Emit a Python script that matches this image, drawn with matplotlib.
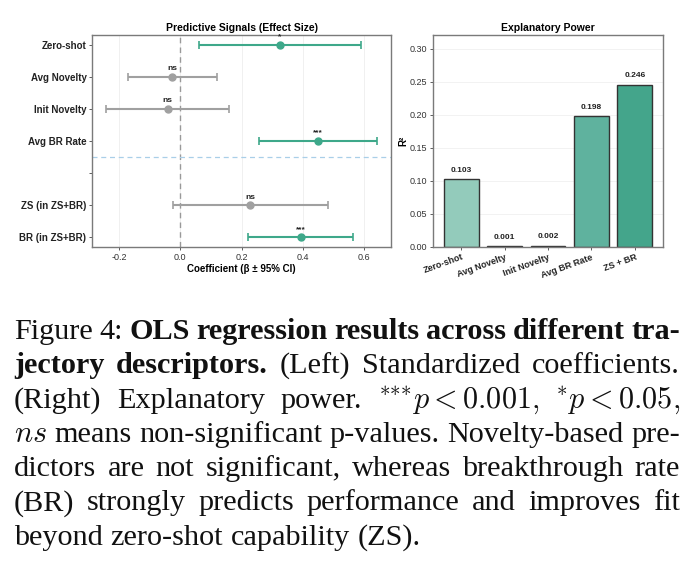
import matplotlib
matplotlib.use("Agg")
import matplotlib.pyplot as plt

# ---------------------------------------------------------
# data
# ---------------------------------------------------------
predictors = ["Zero-shot", "Avg Novelty", "Init Novelty", "Avg BR Rate",
              "", "ZS (in ZS+BR)", "BR (in ZS+BR)"]
coef = [0.325, -0.026, -0.041, 0.448, None, 0.228, 0.392]
ci_low = [0.060, -0.170, -0.243, 0.257, None, -0.023, 0.222]
ci_high = [0.588, 0.118, 0.160, 0.640, None, 0.480, 0.564]
sig = ["*", "ns", "ns", "***", "", "ns", "***"]

models = ["Zero-shot", "Avg Novelty", "Init Novelty", "Avg BR Rate", "ZS + BR"]
r2 = [0.103, 0.001, 0.002, 0.198, 0.246]
bar_colors = ["#93cbbb", "#7fc0ae", "#6bb7a3", "#5fb29e", "#44a58b"]

GREEN = "#3ea88a"
GREY = "#a0a0a0"
SPINE = "#7a7a7a"

plt.rcParams["font.family"] = ["Liberation Sans", "DejaVu Sans"]
plt.rcParams["mathtext.fontset"] = "cm"

fig = plt.figure(figsize=(6.92, 5.79), dpi=100)
W, H = 692, 579

ax1 = fig.add_axes([92 / W, 1 - 247 / H, (391 - 92) / W, (247 - 35) / H])
ax2 = fig.add_axes([433 / W, 1 - 247 / H, (663 - 433) / W, (247 - 35) / H])

# ---------------- left: coefficient plot ----------------
for i, (c, lo, hi, s) in enumerate(zip(coef, ci_low, ci_high, sig)):
    if c is None:
        continue
    col = GREY if s == "ns" else GREEN
    ax1.errorbar(c, i, xerr=[[c - lo], [hi - c]], fmt="o", color=col,
                 ms=5, elinewidth=1.5, capsize=3, capthick=1.2, zorder=3)
    ax1.text(c, i - 0.14, s, ha="center", va="bottom", fontsize=6,
             fontweight="bold", color="#222222", zorder=4)

ax1.axvline(0, color="#999999", ls=(0, (4, 3)), lw=1, zorder=1)
ax1.axhline(3.5, color="#a9cfe8", ls=(0, (4, 3)), lw=0.9, zorder=1)
ax1.set_xlim(-0.288, 0.687)
ax1.set_ylim(6.3, -0.3)
ax1.set_yticks(range(len(predictors)))
ax1.set_yticklabels(predictors, fontsize=7, fontweight="bold", color="#222222")
ax1.set_xticks([-0.2, 0.0, 0.2, 0.4, 0.6])
ax1.set_xticklabels(["-0.2", "0.0", "0.2", "0.4", "0.6"], fontsize=6.5,
                    color="#333333")
ax1.grid(axis="x", color="#eeeeee", lw=0.6, zorder=0)
ax1.set_axisbelow(True)
ax1.set_xlabel("Coefficient (\u03b2 \u00b1 95% CI)", fontsize=7,
               fontweight="bold", labelpad=2)
ax1.set_title("Predictive Signals (Effect Size)", fontsize=7.5,
              fontweight="bold", pad=3)
ax1.tick_params(length=2, width=0.6, color="#444444", pad=2)

# ---------------- right: R^2 bars ----------------
bars = ax2.bar(range(len(models)), r2, width=0.8, color=bar_colors,
               edgecolor="#333333", linewidth=1, zorder=2)
for b, v in zip(bars, r2):
    ax2.text(b.get_x() + b.get_width() / 2, v + 0.008, f"{v:.3f}",
             ha="center", va="bottom", fontsize=6, fontweight="bold",
             color="#222222")
ax2.set_xlim(-0.65, 4.65)
ax2.set_ylim(0, 0.321)
ax2.set_yticks([0, 0.05, 0.10, 0.15, 0.20, 0.25, 0.30])
ax2.set_yticklabels([f"{t:.2f}" for t in ax2.get_yticks()], fontsize=6.5,
                    color="#333333")
ax2.set_xticks(range(len(models)))
ax2.set_xticklabels(models, rotation=20, ha="right", rotation_mode="anchor",
                    fontsize=6.5, fontweight="bold", color="#222222")
ax2.grid(axis="y", color="#f0f0f0", lw=0.6, zorder=0)
ax2.set_axisbelow(True)
ax2.set_ylabel("R\u00b2", fontsize=7, fontweight="bold", labelpad=1)
ax2.set_title("Explanatory Power", fontsize=7.5, fontweight="bold", pad=3)
ax2.tick_params(length=2, width=0.6, color="#444444", pad=2)

for ax in (ax1, ax2):
    for sp in ax.spines.values():
        sp.set_color(SPINE)
        sp.set_linewidth(1)

# ---------------- caption (justified) ----------------
N, B, M = "normal", "bold", "math"
caption = [
    [("Figure", N), ("4:", N), ("OLS", B), ("regression", B), ("results", B),
     ("across", B), ("different", B), ("tra-", B)],
    [("jectory", B), ("descriptors.", B), ("(Left)", N), ("Standardized", N),
     ("coefficients.", N)],
    [("(Right)", N), ("Explanatory", N), ("power.", N),
     (r"$^{{*}{*}{*}}p<0.001,$", M), (r"$^{{*}}p<0.05,$", M)],
    [(r"$ns$", M), ("means", N), ("non-significant", N), ("p-values.", N),
     ("Novelty-based", N), ("pre-", N)],
    [("dictors", N), ("are", N), ("not", N), ("significant,", N),
     ("whereas", N), ("breakthrough", N), ("rate", N)],
    [("(BR)", N), ("strongly", N), ("predicts", N), ("performance", N),
     ("and", N), ("improves", N), ("fit", N)],
    [("beyond", N), ("zero-shot", N), ("capability", N), ("(ZS).", N)],
]
x_left, x_right = 14, 680
line_base = [339 + 34.3 * k for k in range(len(caption))]
fs = 21.8

fig.canvas.draw()
renderer = fig.canvas.get_renderer()
for k, (words, y) in enumerate(zip(caption, line_base)):
    objs = []
    for w, st in words:
        t = fig.text(0, 1 - y / H, w, fontsize=fs, va="baseline", ha="left",
                     family="Liberation Serif",
                     fontweight="bold" if st == B else "normal",
                     color="#111111")
        objs.append(t)
    widths = [o.get_window_extent(renderer).width for o in objs]
    if k == len(caption) - 1:
        gap = fs * 0.25 * 100 / 72
    else:
        gap = (x_right - x_left - sum(widths)) / (len(objs) - 1)
    x = x_left
    for o, w in zip(objs, widths):
        o.set_x(x / W)
        x += w + gap

fig.savefig("out.png", dpi=100)
